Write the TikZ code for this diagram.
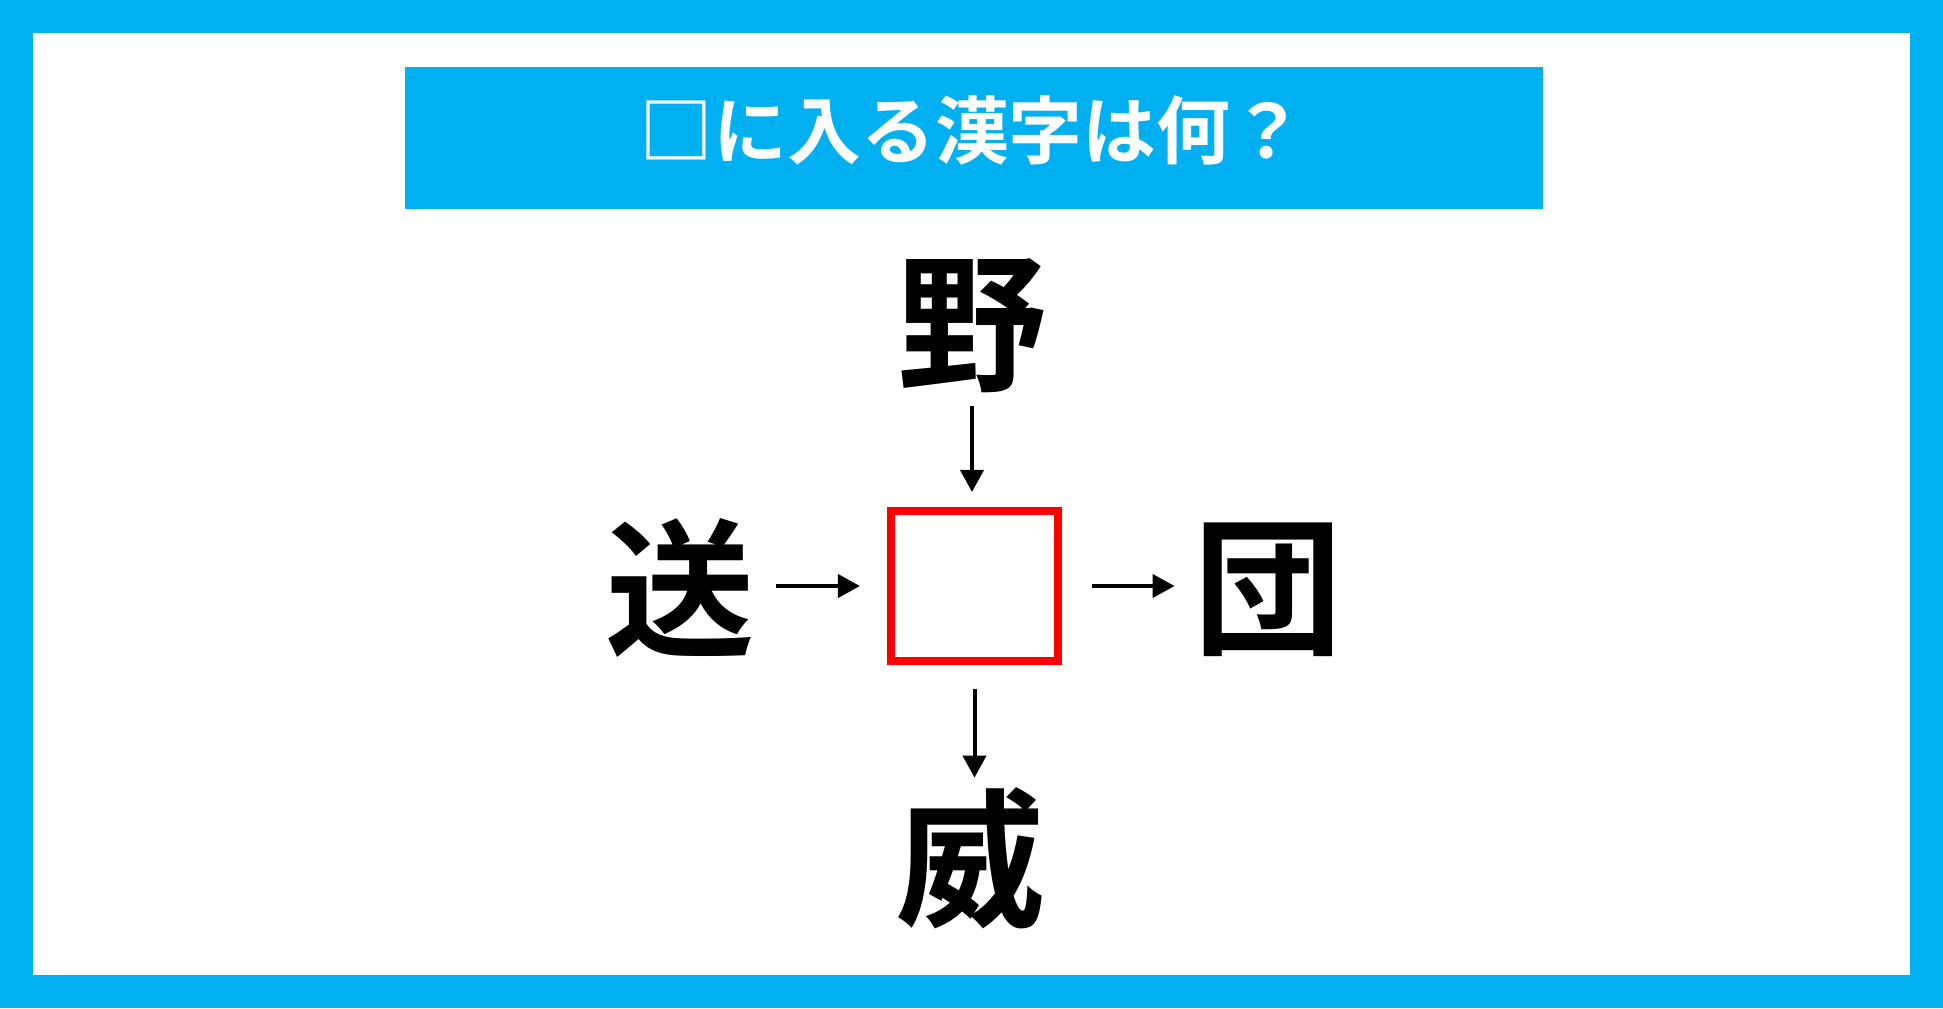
\documentclass[tikz,border=0pt]{standalone}
\usepackage{fontspec}
\newfontfamily\jp{Noto Sans CJK JP}[BoldFont={Noto Sans CJK JP Bold}]
\usetikzlibrary{arrows.meta}
\definecolor{skyblue}{HTML}{00B0F0}
\begin{document}
\begin{tikzpicture}[x=0.01cm,y=-0.01cm,
  kanji/.style={inner sep=0pt,font=\jp\bfseries\fontsize{42.5}{42.5}\selectfont},
  arr/.style={line width=0.04cm,-{Triangle[length=0.22cm,width=0.23cm]}}]
\fill[skyblue](0,0)rectangle(1943,1008);
\fill[white](33,33)rectangle(1910,975);
\fill[skyblue](405,67)rectangle(1543,209);
\node[text=white,inner sep=0pt,font=\jp\bfseries\fontsize{21}{21}\selectfont](title)at(972,130){□に入る漢字は何？};
\node[draw=red,line width=0.08cm,minimum width=1.67cm,minimum height=1.5cm](box)at(974.5,586){};
\node[kanji](top)at(972,326){野};
\node[kanji](left)at(680,588){送};
\node[kanji](right)at(1268,590){団};
\node[kanji](bottom)at(970,858){威};
\draw[arr,shorten <=0.12cm,shorten >=0.15cm](top.south)--(top.south|-box.north);
\draw[arr,shorten <=0.21cm,shorten >=0.27cm](left.east|-box)--(box.west);
\draw[arr,shorten <=0.30cm,shorten >=0.18cm](box.east)--(right.west|-box);
\draw[arr,shorten <=0.24cm,shorten >=0.09cm](box.south)--(box.south|-bottom.north);
\end{tikzpicture}
\end{document}
